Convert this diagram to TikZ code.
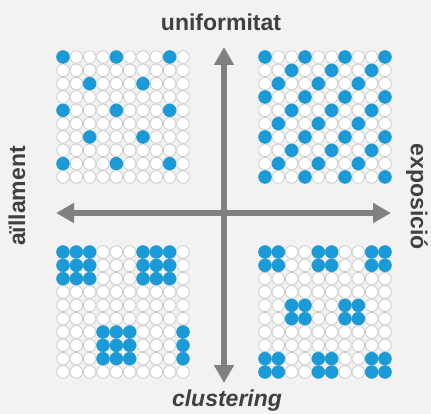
\documentclass[tikz,border=0pt]{standalone}
\usepackage{fontspec}
\setmainfont{Liberation Sans}
\usetikzlibrary{arrows.meta}
\definecolor{bg}{HTML}{F2F2F2}
\definecolor{dotblue}{HTML}{1A9AD7}
\definecolor{ring}{HTML}{C6C6C6}
\definecolor{axisgray}{HTML}{808080}
\definecolor{lbl}{HTML}{404040}
\tikzset{
  cell/.style={fill=white,draw=ring,line width=0.7pt},
  hit/.style={fill=dotblue,draw=dotblue,line width=0.5pt},
  axisarrow/.style={draw=axisgray,line width=6pt,-{Triangle[length=18pt,width=19pt]}},
  axislabel/.style={text=lbl,font=\fontsize{23pt}{26pt}\selectfont\bfseries,inner sep=0pt},
}
\newcommand{\cellgrid}[2]{%
  \foreach \r in {0,...,9}{\foreach \c in {0,...,9}{%
    \draw[cell] ({#1+\c*13.333},{#2+\r*13.333}) circle (6.3);}}}
\newcommand{\hitdot}[4]{\draw[hit] ({#1+#4*13.333},{#2+#3*13.333}) circle (6.4);}
\begin{document}
\begin{tikzpicture}[x=1pt,y=-1pt]
\fill[bg] (0,0) rectangle (431,414);
\useasboundingbox (0,0) rectangle (431,414);
% top-left: uniform sparse
\cellgrid{63}{57}
\foreach \r/\c in {0/0,0/4,0/8,2/2,2/6,4/0,4/4,4/8,6/2,6/6,8/0,8/4,8/8}{\hitdot{63}{57}{\r}{\c}}
% top-right: uniform dense
\cellgrid{265}{57}
\foreach \r in {0,3,6,9}{\foreach \c in {0,3,6,9}{\hitdot{265}{57}{\r}{\c}}}
\foreach \r in {1,4,7}{\foreach \c in {2,5,8}{\hitdot{265}{57}{\r}{\c}}}
\foreach \r in {2,5,8}{\foreach \c in {1,4,7}{\hitdot{265}{57}{\r}{\c}}}
% bottom-left: large clusters
\cellgrid{63}{252}
\foreach \r in {0,1,2}{\foreach \c in {0,1,2,6,7,8}{\hitdot{63}{252}{\r}{\c}}}
\foreach \r in {6,7,8}{\foreach \c in {3,4,5,9}{\hitdot{63}{252}{\r}{\c}}}
% bottom-right: small clusters
\cellgrid{265}{252}
\foreach \r in {0,1,8,9}{\foreach \c in {0,1,4,5,8,9}{\hitdot{265}{252}{\r}{\c}}}
\foreach \r in {4,5}{\foreach \c in {2,3,6,7}{\hitdot{265}{252}{\r}{\c}}}
% axes
\coordinate (vtop) at (224,47);
\coordinate (vbot) at (224,383);
\coordinate (hleft) at (56,213);
\coordinate (hright) at (391,213);
\coordinate (center) at (224,213);
\draw[axisarrow] (center) -- (vtop);
\draw[axisarrow] (center) -- (vbot);
\draw[axisarrow] (center) -- (hleft);
\draw[axisarrow] (center) -- (hright);
% labels
\node[axislabel] (top) at (221,22) {uniformitat};
\node[axislabel,font=\fontsize{23pt}{26pt}\selectfont\bfseries\itshape] (bottom) at (227,401) {clustering};
\node[axislabel,rotate=90] (left) at (17,196) {aïllament};
\node[axislabel,rotate=-90] (right) at (417,197) {exposició};
\end{tikzpicture}
\end{document}
